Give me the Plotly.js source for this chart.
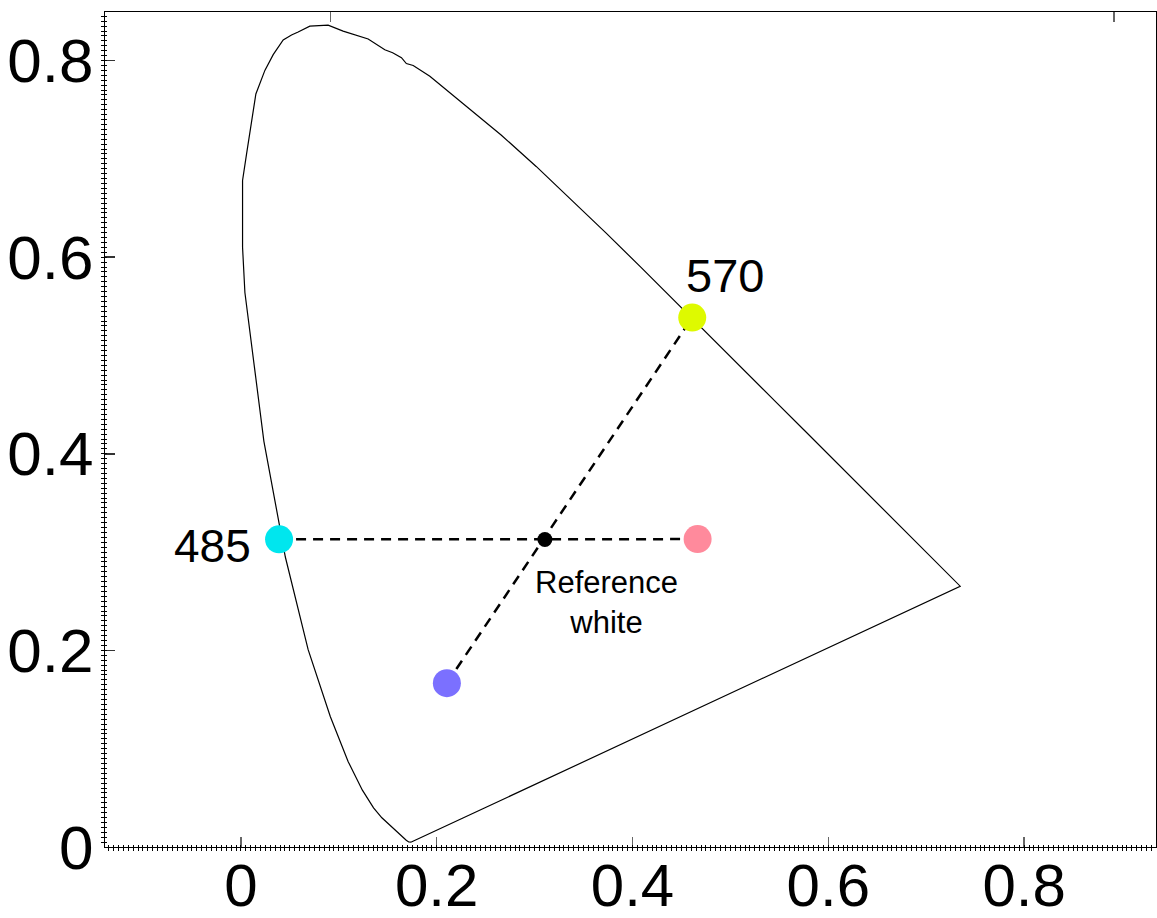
<!DOCTYPE html>
<html>
<head>
<meta charset="utf-8">
<script src="https://cdn.plot.ly/plotly-3.0.1.min.js"></script>
<style>html,body{margin:0;padding:0;background:#fff;}#chart{width:1157px;height:918px;}</style>
</head>
<body>
<div id="chart"></div>
<script>
// Spectral locus (chromaticity x, y), closed by the purple line
const locusX = [0.1741,0.1733,0.1714,0.1689,0.1644,0.1566,0.1510,0.1440,0.1355,0.1241,0.1096,0.0913,0.0687,0.0454,0.0235,
  0.0099,0.0041,0.0017,0.0017,0.0058,0.0099,0.0153,0.0245,0.0330,0.0432,0.0517,0.0585,0.0704,0.0891,0.1044,0.1300,0.1470,0.1550,0.1640,0.1690,0.1760,0.1930,
  0.2296,0.2658,0.3016,0.3373,0.3731,0.4087,0.4441,0.4788,0.5125,0.5448,0.5752,0.6029,0.6270,0.6482,0.6658,0.6801,0.6915,0.7006,0.7079,0.7140,0.7190,0.7260,0.7300,0.7334,0.7347,
  0.1741];
const locusY = [0.0050,0.0048,0.0051,0.0069,0.0109,0.0177,0.0227,0.0297,0.0399,0.0578,0.0868,0.1327,0.2007,0.2950,0.4127,
  0.5160,0.5640,0.6100,0.6780,0.7050,0.7320,0.7660,0.7900,0.8060,0.8210,0.8260,0.8290,0.8350,0.8360,0.8300,0.8220,0.8110,0.8080,0.8030,0.7970,0.7950,0.7840,
  0.7543,0.7243,0.6923,0.6589,0.6245,0.5896,0.5547,0.5202,0.4866,0.4544,0.4242,0.3965,0.3725,0.3514,0.3340,0.3197,0.3083,0.2993,0.2920,0.2859,0.2809,0.2740,0.2700,0.2666,0.2653,
  0.0050];

// Colour points: 485 nm, 570 nm, complementary (pink), complementary (blue)
const pointLabels = ['485', '570', '', ''];
const pointX = [0.039, 0.461, 0.4665, 0.2104];
const pointY = [0.313, 0.5386, 0.3132, 0.1667];
const pointColors = ['#00E6EE', '#DEFA00', '#FF8A9C', '#7B70FF'];

// Reference white
const whiteX = [0.3105];
const whiteY = [0.3128];

// Tick values
const xTickVals = [0, 0.2, 0.4, 0.6, 0.8];
const xTickText = ['0', '0.2', '0.4', '0.6', '0.8'];
const yTickVals = [0, 0.2, 0.4, 0.6, 0.8];
const yTickText = ['0', '0.2', '0.4', '0.6', '0.8'];
const topTickVals = [0.0915, 0.892];

const FONT = 'Liberation Sans, Arial, Helvetica, sans-serif';
const xRange = [-0.1388, 0.9347];
const yRange = [0, 0.8494];

const traces = [
  {x: locusX, y: locusY, mode: 'lines', line: {color: '#000', width: 1.2}, hoverinfo: 'skip', showlegend: false},
  {x: [pointX[0], pointX[2]], y: [pointY[0], pointY[2]], mode: 'lines', line: {color: '#000', width: 2.5, dash: '10px,7px'}, showlegend: false},
  {x: [pointX[3], pointX[1]], y: [pointY[3], pointY[1]], mode: 'lines', line: {color: '#000', width: 2.5, dash: '10px,7px'}, showlegend: false},
  {x: pointX, y: pointY, mode: 'markers', marker: {size: 28, color: pointColors, line: {width: 0}}, showlegend: false},
  {x: whiteX, y: whiteY, mode: 'markers', marker: {size: 15, color: '#000', line: {width: 0}}, showlegend: false}
];

const layout = {
  width: 1157, height: 918,
  margin: {l: 105, r: 1, t: 12, b: 71},
  paper_bgcolor: '#fff', plot_bgcolor: '#fff',
  font: {family: FONT, color: '#000'},
  showlegend: false,
  xaxis: {
    range: xRange, showgrid: false, zeroline: false,
    showline: true, linecolor: '#000', linewidth: 1.2,
    tickmode: 'array', tickvals: xTickVals, ticktext: xTickText,
    ticks: 'inside', ticklen: 10, tickwidth: 1.5, tickcolor: '#666',
    tickfont: {size: 60, family: FONT, color: '#000'},
    ticklabelstandoff: -14,
    minor: {dtick: 0.005, tick0: 0, ticks: 'outside', ticklen: 3, tickwidth: 1, tickcolor: '#000'}
  },
  xaxis2: {
    range: xRange, overlaying: 'x', side: 'top', showgrid: false, zeroline: false,
    showline: true, linecolor: '#000', linewidth: 1.2,
    tickmode: 'array', tickvals: topTickVals, showticklabels: false,
    ticks: 'inside', ticklen: 10, tickwidth: 1.5, tickcolor: '#666'
  },
  xaxis3: {
    range: xRange, overlaying: 'x', side: 'bottom', showgrid: false, zeroline: false,
    showline: false, showticklabels: false, tickmode: 'array', tickvals: [], ticks: '',
    minor: {dtick: 0.005, tick0: 0, ticks: 'inside', ticklen: 2, tickwidth: 1, tickcolor: '#000'}
  },
  yaxis: {
    range: yRange, showgrid: false, zeroline: false,
    showline: true, linecolor: '#000', linewidth: 1.2, mirror: true,
    tickmode: 'array', tickvals: yTickVals, ticktext: yTickText,
    ticks: 'inside', ticklen: 10, tickwidth: 1.5, tickcolor: '#333',
    tickfont: {size: 62, family: FONT, color: '#000'},
    ticklabelstandoff: -2,
    minor: {dtick: 0.005, tick0: 0, ticks: 'outside', ticklen: 3, tickwidth: 1, tickcolor: '#000'}
  },
  yaxis2: {
    range: yRange, overlaying: 'y', side: 'left', showgrid: false, zeroline: false,
    showline: false, showticklabels: false, tickmode: 'array', tickvals: [], ticks: '',
    minor: {dtick: 0.005, tick0: 0, ticks: 'inside', ticklen: 2, tickwidth: 1, tickcolor: '#000'}
  },
  annotations: [
    {x: 0.494, y: 0.5817, xref: 'x', yref: 'y', text: pointLabels[1], showarrow: false, font: {size: 47, family: FONT, color: '#000'}},
    {x: -0.0286, y: 0.306, xref: 'x', yref: 'y', text: pointLabels[0], showarrow: false, font: {size: 46, family: FONT, color: '#000'}},
    {x: 0.3735, y: 0.2489, xref: 'x', yref: 'y', text: 'Reference<br>white', showarrow: false, font: {size: 31, family: FONT, color: '#000'}}
  ]
};

// dummy traces to activate overlay axes
traces.push({x: [xRange[0]], y: [yRange[0]], xaxis: 'x2', yaxis: 'y', mode: 'markers', marker: {opacity: 0}, hoverinfo: 'skip', showlegend: false});
traces.push({x: [xRange[0]], y: [yRange[0]], xaxis: 'x3', yaxis: 'y2', mode: 'markers', marker: {opacity: 0}, hoverinfo: 'skip', showlegend: false});

Plotly.newPlot('chart', traces, layout, {staticPlot: true, displayModeBar: false});
</script>
</body>
</html>
